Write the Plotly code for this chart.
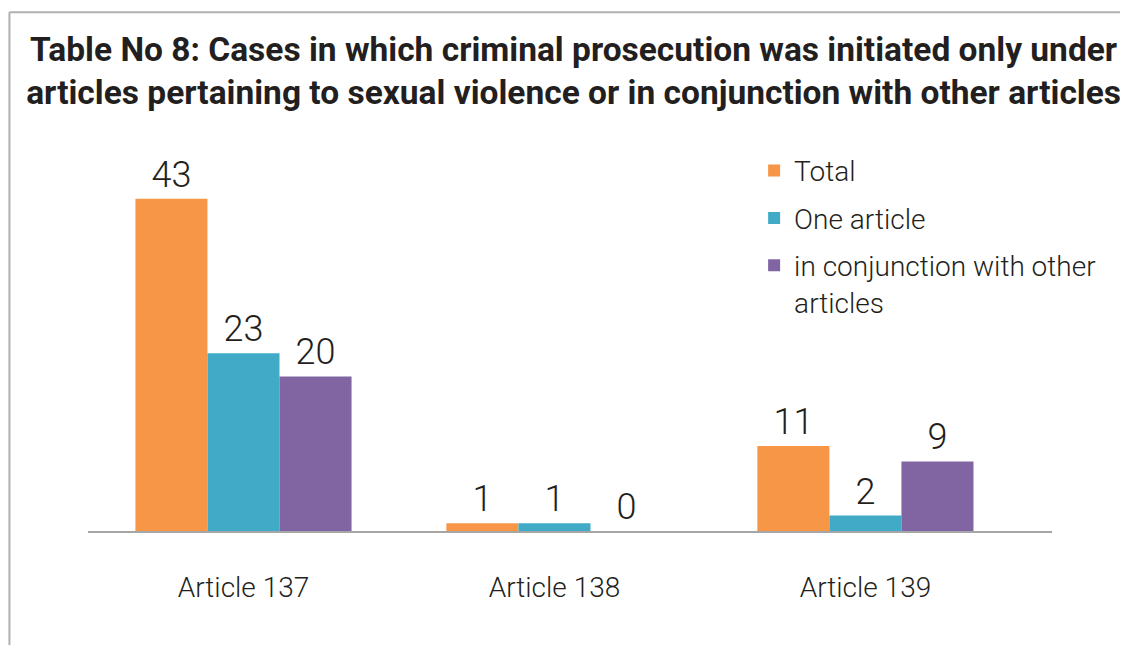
import plotly.graph_objects as go

# data
categories = ["Article 137", "Article 138", "Article 139"]
total = [43, 1, 11]
one_article = [23, 1, 2]
with_other = [20, 0, 9]

series = [
    ("Total", total, "#F79646"),
    ("One article", one_article, "#41ABC7"),
    ("in conjunction with other<br>articles", with_other, "#8065A2"),
]

FONT = "Roboto, DejaVu Sans, sans-serif"
TXT = "#231F20"

fig = go.Figure()
for i, (name, vals, color) in enumerate(series):
    fig.add_trace(go.Bar(
        x=categories, y=vals, name=name, legendgroup=f"g{i}",
        marker=dict(color=color, line=dict(width=0)),
        text=[str(v) for v in vals], textposition="outside",
        textfont=dict(family=FONT, size=36, color=TXT, weight=300),
        cliponaxis=False,
    ))

# page body has an 8px margin, so the figure is sized 8px smaller
fig.update_layout(
    width=1120, height=637,
    paper_bgcolor="white", plot_bgcolor="white",
    barmode="group", bargap=0.305, bargroupgap=0,
    margin=dict(l=80, r=76, t=132, b=114, autoexpand=False),
    title=dict(
        text="Table No 8: Cases in which criminal prosecution was initiated only under<br>"
             "articles pertaining to sexual violence or in conjunction with other articles",
        x=0.505, xanchor="center", y=0.917, yanchor="top",
        font=dict(family=FONT, size=33.5, color=TXT, weight="bold"),
    ),
    legend=dict(
        x=0.691, y=0.985, xanchor="left", yanchor="top",
        font=dict(family=FONT, size=28, color=TXT, weight=300),
        valign="top", tracegroupgap=8, bgcolor="rgba(0,0,0,0)",
    ),
    showlegend=True,
    shapes=[
        dict(type="line", xref="paper", yref="paper", x0=-0.0815, x1=1.2, y0=1.327, y1=1.327,
             line=dict(color="#B0B0B0", width=2)),
        dict(type="line", xref="paper", yref="paper", x0=-0.0815, x1=-0.0815, y0=1.327, y1=-0.35,
             line=dict(color="#B0B0B0", width=2)),
    ],
)
fig.update_xaxes(
    range=[-0.5, 2.6], showline=True, linecolor="#A6A6A6", linewidth=2,
    ticks="", tickfont=dict(family=FONT, size=28, color=TXT, weight=300), ticklabelstandoff=30,
    showgrid=False,
)
fig.update_yaxes(range=[0, 50.6], visible=False, showgrid=False)

fig.write_html("out.html")
